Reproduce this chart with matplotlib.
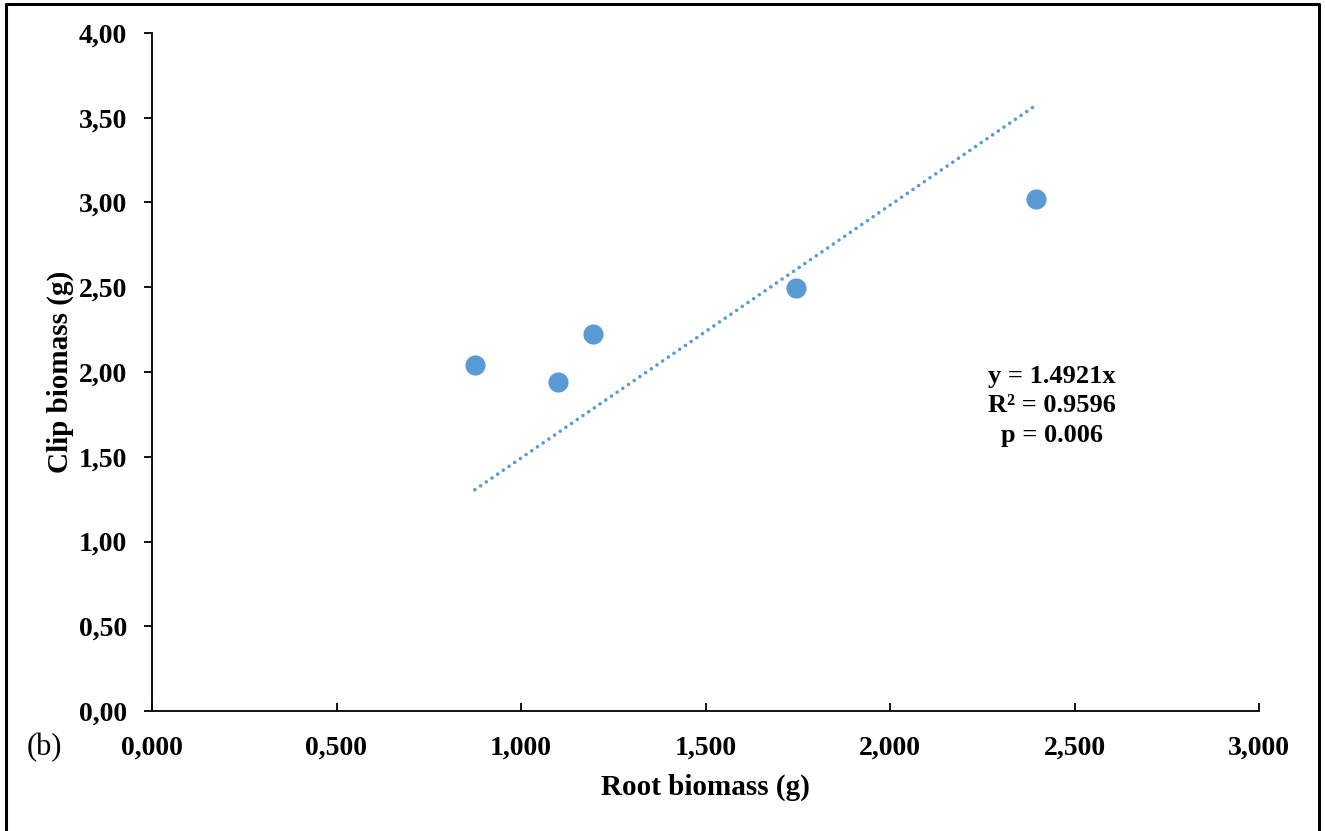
import numpy as np
import matplotlib.pyplot as plt
from matplotlib.ticker import FuncFormatter

# data
root_biomass = [0.875, 1.100, 1.195, 1.745, 2.396]
clip_biomass = [2.04, 1.94, 2.225, 2.495, 3.02]
slope = 1.4921
eq_lines = ["y = 1.4921x", "R² = 0.9596", "p = 0.006"]

blue = "#5B9BD5"
plt.rcParams['font.family'] = ['Liberation Serif', 'DejaVu Serif']

fig = plt.figure(figsize=(13.25, 8.31), dpi=100)
ax = fig.add_axes([152 / 1325, 120 / 831, 1107 / 1325, 678 / 831])

ax.scatter(root_biomass, clip_biomass, s=210, color=blue, zorder=3, linewidths=0)

# trendline forced through origin, drawn over data range
xt = np.array([min(root_biomass), max(root_biomass)])
ax.plot(xt, slope * xt, color=blue, lw=2.6, linestyle=(0, (0.01, 1.9)),
        dash_capstyle='round', zorder=2)

ax.set_xlim(0, 3)
ax.set_ylim(0, 4)
ax.set_xticks(np.arange(0, 3.01, 0.5))
ax.set_yticks(np.arange(0, 4.01, 0.5))
ax.xaxis.set_major_formatter(FuncFormatter(lambda v, p: f"{v:.3f}".replace(".", ",")))
ax.yaxis.set_major_formatter(FuncFormatter(lambda v, p: f"{v:.2f}".replace(".", ",")))

for s in ["top", "right"]:
    ax.spines[s].set_visible(False)
for s in ["left", "bottom"]:
    ax.spines[s].set_linewidth(1.3)
ax.tick_params(axis="y", direction="out", length=6, width=1.3, pad=12, labelsize=20)
ax.tick_params(axis="x", direction="in", length=6, width=1.3, pad=18, labelsize=20)
for lab in ax.get_xticklabels() + ax.get_yticklabels():
    lab.set_fontweight("bold")

ax.set_xlabel("Root biomass (g)", fontsize=21, fontweight="bold", labelpad=9)
ax.set_ylabel("Clip biomass (g)", fontsize=21, fontweight="bold", labelpad=3)

fig.text(1052 / 1325, 1 - 406 / 831, "\n".join(eq_lines), ha="center", va="center",
         fontsize=19, fontweight="bold", linespacing=1.38)
fig.text(44 / 1325, 1 - 748 / 831, "(b)", ha="center", va="center", fontsize=22)

# outer frame (no bottom edge visible)
fig.add_artist(plt.Line2D([6 / 1325, 6 / 1325, 1319 / 1325, 1319 / 1325],
                          [0, 1 - 4 / 831, 1 - 4 / 831, 0],
                          transform=fig.transFigure, color="black", lw=2.2))

fig.savefig("out.png", dpi=100)
